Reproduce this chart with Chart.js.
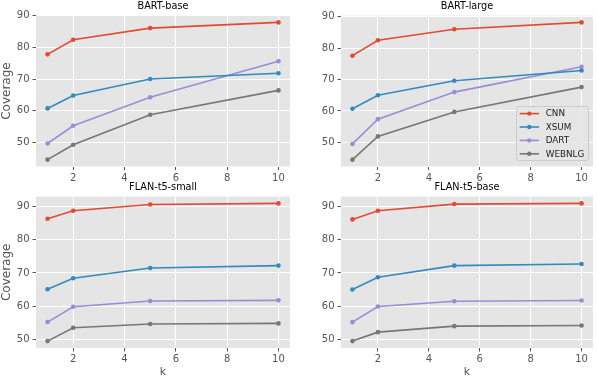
<!DOCTYPE html>
<html>
<head>
<meta charset="utf-8">
<script src="https://cdn.jsdelivr.net/npm/chart.js@4.4.0/dist/chart.umd.min.js"></script>
<style>
  body { margin: 0; background: #fff; }
  #wrap { position: relative; width: 597px; height: 377px; }
  canvas { position: absolute; }
</style>
</head>
<body>
<div id="wrap">
  <canvas id="c-tl" width="297" height="188" style="left:0;top:0"></canvas>
  <canvas id="c-tr" width="300" height="188" style="left:297px;top:0"></canvas>
  <canvas id="c-bl" width="297" height="196" style="left:0;top:181px"></canvas>
  <canvas id="c-br" width="300" height="196" style="left:297px;top:181px"></canvas>
</div>
<script>
const kValues = [1, 2, 5, 10];
const seriesNames = ["CNN", "XSUM", "DART", "WEBNLG"];
const panelTitles = ["BART-base", "BART-large", "FLAN-t5-small", "FLAN-t5-base"];
const xTicks = [2, 4, 6, 8, 10];
const yTicks = [50, 60, 70, 80, 90];

const bartBaseCNN = [77.8, 82.4, 86.1, 87.9];
const bartBaseXSUM = [60.7, 64.8, 70.0, 71.8];
const bartBaseDART = [49.6, 55.2, 64.2, 75.6];
const bartBaseWEBNLG = [44.5, 49.2, 58.7, 66.4];

const bartLargeCNN = [77.6, 82.5, 86.0, 88.2];
const bartLargeXSUM = [60.7, 65.0, 69.6, 72.9];
const bartLargeDART = [49.5, 57.4, 66.0, 74.1];
const bartLargeWEBNLG = [44.5, 51.9, 59.7, 67.6];

const flanSmallCNN = [86.2, 88.6, 90.5, 90.8];
const flanSmallXSUM = [65.1, 68.4, 71.5, 72.2];
const flanSmallDART = [55.3, 59.9, 61.6, 61.8];
const flanSmallWEBNLG = [49.6, 53.6, 54.7, 54.9];

const flanBaseCNN = [86.1, 88.7, 90.7, 90.9];
const flanBaseXSUM = [65.0, 68.7, 72.2, 72.7];
const flanBaseDART = [55.2, 59.9, 61.5, 61.7];
const flanBaseWEBNLG = [49.5, 52.2, 54.0, 54.2];

const lineColors = ["#E24A33", "#348ABD", "#988ED5", "#777777"];
const FONT = "'DejaVu Sans', sans-serif";

// gray ggplot-like panel background
const plotBg = {
  id: "plotBg",
  beforeDraw(chart) {
    const a = chart.chartArea;
    const ctx = chart.ctx;
    ctx.save();
    ctx.fillStyle = "#E5E5E5";
    ctx.fillRect(a.left, a.top, a.right - a.left, a.bottom - a.top);
    ctx.restore();
  },
};

// framed legend inside the plot, lower right
const boxLegend = {
  id: "boxLegend",
  afterDraw(chart, args, opts) {
    if (!opts.show) return;
    const a = chart.chartArea;
    const ctx = chart.ctx;
    const w = 72, h = 54;
    const left = a.right - 5 - w;
    const top = a.bottom - 6.5 - h;
    ctx.save();
    ctx.beginPath();
    ctx.roundRect(left + 0.5, top + 0.5, w, h, 2.5);
    ctx.fillStyle = "rgba(229,229,229,0.8)";
    ctx.fill();
    ctx.strokeStyle = "#CCCCCC";
    ctx.lineWidth = 1;
    ctx.stroke();
    ctx.font = "8.8px " + FONT;
    ctx.textBaseline = "middle";
    chart.data.datasets.forEach((ds, i) => {
      const y = top + 7.6 + i * 13.4;
      ctx.strokeStyle = ds.borderColor;
      ctx.lineWidth = 1.6;
      ctx.beginPath();
      ctx.moveTo(left + 3.7, y);
      ctx.lineTo(left + 23, y);
      ctx.stroke();
      ctx.fillStyle = ds.borderColor;
      ctx.beginPath();
      ctx.arc(left + 13.3, y, 2.2, 0, Math.PI * 2);
      ctx.fill();
      ctx.fillStyle = "#222";
      ctx.fillText(ds.label, left + 29.7, y + 0.5);
    });
    ctx.restore();
  },
};

function makePanel(id, title, series, opt) {
  const all = series.flat();
  const lo = Math.min(...all), hi = Math.max(...all);
  const m = (hi - lo) * 0.05;
  const xm = (kValues[kValues.length - 1] - kValues[0]) * 0.05;

  const datasets = series.map((vals, i) => ({
    label: seriesNames[i],
    data: vals.map((v, j) => ({ x: kValues[j], y: v })),
    borderColor: lineColors[i],
    backgroundColor: lineColors[i],
    pointBackgroundColor: lineColors[i],
    pointBorderWidth: 0,
    pointRadius: 2.3,
    borderWidth: 1.6,
    tension: 0,
  }));

  new Chart(document.getElementById(id).getContext("2d"), {
    type: "line",
    data: { datasets },
    options: {
      responsive: false,
      animation: false,
      layout: { padding: { left: 0, top: 0, bottom: 0, right: opt.padRight } },
      plugins: {
        legend: { display: false },
        tooltip: { enabled: false },
        title: {
          display: true,
          text: title,
          color: "#000",
          fullSize: false,
          font: { family: FONT, size: 9.7, lineHeight: 1.2, weight: "normal" },
          padding: { top: 0.4, bottom: 3.5 },
        },
        boxLegend: { show: !!opt.legend },
      },
      scales: {
        x: {
          type: "linear",
          min: kValues[0] - xm,
          max: kValues[kValues.length - 1] + xm,
          afterBuildTicks: (s) => { s.ticks = xTicks.map((v) => ({ value: v })); },
          afterFit: (s) => { s.height = opt.xHeight; },
          border: { display: false },
          grid: { color: "#fff", lineWidth: 1, tickColor: "#555", tickLength: 3.5, tickWidth: 1 },
          ticks: { color: "#555", padding: 2, maxRotation: 0, font: { family: FONT, size: 10 } },
          title: {
            display: !!opt.xLabel,
            text: "k",
            color: "#555",
            font: { family: FONT, size: 11, lineHeight: 0.8 },
            padding: { top: 0, bottom: 0 },
          },
        },
        y: {
          min: lo - m,
          max: hi + m,
          afterBuildTicks: (s) => { s.ticks = yTicks.map((v) => ({ value: v })); },
          afterFit: (s) => { s.width = opt.axisWidth; },
          border: { display: false },
          grid: { color: "#fff", lineWidth: 1, tickColor: "#555", tickLength: 3.5, tickWidth: 1 },
          ticks: { color: "#555", padding: 3, font: { family: FONT, size: 10 } },
          title: {
            display: !!opt.yLabel,
            text: "Coverage",
            color: "#555",
            font: { family: FONT, size: 12, lineHeight: 1 },
            padding: { top: 0.8, bottom: 0 },
          },
        },
      },
    },
    plugins: [plotBg, boxLegend],
  });
}

makePanel("c-tl", panelTitles[0], [bartBaseCNN, bartBaseXSUM, bartBaseDART, bartBaseWEBNLG],
  { yLabel: true, axisWidth: 36, padRight: 7, xHeight: 21.5 });
makePanel("c-tr", panelTitles[1], [bartLargeCNN, bartLargeXSUM, bartLargeDART, bartLargeWEBNLG],
  { axisWidth: 44, padRight: 3, xHeight: 21.5, legend: true });
makePanel("c-bl", panelTitles[2], [flanSmallCNN, flanSmallXSUM, flanSmallDART, flanSmallWEBNLG],
  { yLabel: true, xLabel: true, axisWidth: 36, padRight: 7, xHeight: 29 });
makePanel("c-br", panelTitles[3], [flanBaseCNN, flanBaseXSUM, flanBaseDART, flanBaseWEBNLG],
  { xLabel: true, axisWidth: 44, padRight: 3, xHeight: 29 });
</script>
</body>
</html>
